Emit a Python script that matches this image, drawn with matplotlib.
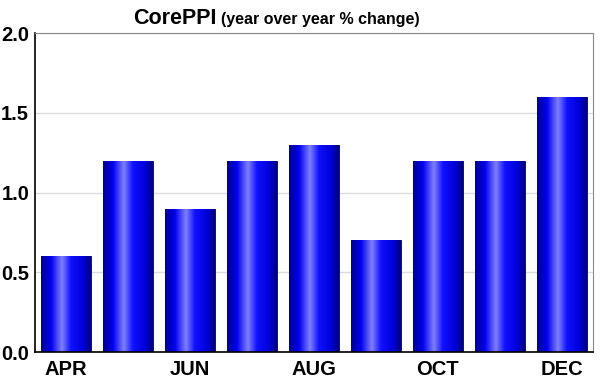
import numpy as np
import matplotlib.pyplot as plt
from matplotlib.colors import LinearSegmentedColormap

plt.rcParams['font.family'] = ['Liberation Sans', 'DejaVu Sans']

months = ['APR', 'MAY', 'JUN', 'JUL', 'AUG', 'SEP', 'OCT', 'NOV', 'DEC']
values = [0.6, 1.2, 0.9, 1.2, 1.3, 0.7, 1.2, 1.2, 1.6]
shown = ['APR', '', 'JUN', '', 'AUG', '', 'OCT', '', 'DEC']

fig = plt.figure(figsize=(6, 3.84), dpi=100)
ax = fig.add_axes([0.058, 0.083, 0.93, 0.831])

# horizontal shading across each bar
shade = LinearSegmentedColormap.from_list('shade', [
    (0.0, '#00008c'), (0.2, '#0000f0'), (0.42, '#8080ff'),
    (0.6, '#1010ff'), (0.85, '#0000d8'), (1.0, '#00007a')])
grad = np.linspace(0, 1, 256).reshape(1, -1)

x = np.arange(len(months))
bars = ax.bar(x, values, width=0.8, color='#0000ff', edgecolor='#000060',
              linewidth=0.6, zorder=2)
for b in bars:
    x0, w, h = b.get_x(), b.get_width(), b.get_height()
    im = ax.imshow(grad, cmap=shade, aspect='auto', extent=(x0, x0 + w, 0, h),
                   zorder=2.5, interpolation='bicubic')
    im.set_clip_path(b)

ax.set_xlim(-0.5, len(months) - 0.5)
ax.set_ylim(0, 2.0)
ax.set_yticks([0, 0.5, 1.0, 1.5, 2.0])
ax.set_yticklabels(['0.0', '0.5', '1.0', '1.5', '2.0'])
ax.set_xticks(x)
ax.set_xticklabels(shown)
ax.tick_params(axis='x', length=0, labelsize=14.5, pad=6)
ax.tick_params(axis='y', length=0, labelsize=14.5, pad=4)
for lab in ax.get_xticklabels() + ax.get_yticklabels():
    lab.set_fontweight('bold')

ax.grid(axis='y', color='#dddddd', linewidth=1, zorder=0)
ax.set_axisbelow(True)
for s in ['top', 'right']:
    ax.spines[s].set_color('#888888')
for s in ['left', 'bottom']:
    ax.spines[s].set_color('black')
    ax.spines[s].set_linewidth(1.2)

title = fig.text(0.222, 0.952, 'CorePPI', ha='left', va='center',
                 fontsize=15.5, fontweight='bold')
fig.canvas.draw()
bb = title.get_window_extent().transformed(fig.transFigure.inverted())
fig.text(bb.x1 + 0.008, 0.948, '(year over year % change)', ha='left',
         va='center', fontsize=11.5, fontweight='bold')

fig.savefig('out.png', dpi=100)
